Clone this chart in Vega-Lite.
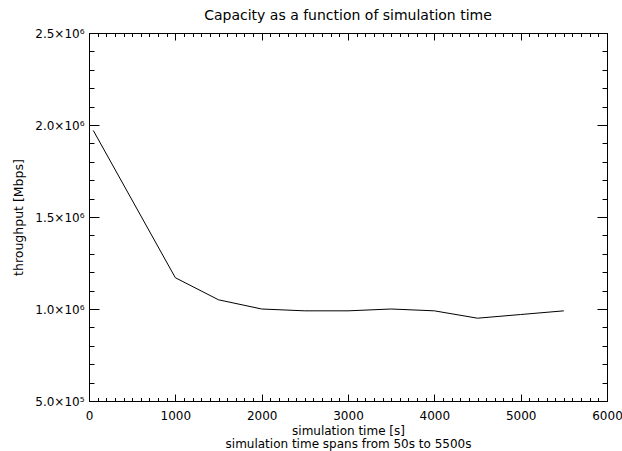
{
  "$schema": "https://vega.github.io/schema/vega-lite/v6.json",
  "width": 518,
  "height": 368,
  "autosize": "none",
  "padding": {"left": 89, "top": 33, "right": 15, "bottom": 50},
  "background": "white",
  "title": {"text": "Capacity as a function of simulation time", "fontSize": 14, "font": "DejaVu Sans", "fontWeight": "normal", "color": "black", "offset": 4, "anchor": "middle"},
  "config": {
    "view": {"stroke": "black", "strokeWidth": 1},
    "axis": {"grid": false, "domainColor": "black", "tickColor": "black", "labelColor": "black", "titleColor": "black", "labelFont": "DejaVu Sans", "titleFont": "DejaVu Sans", "titleFontWeight": "normal", "labelFontSize": 12, "titleFontSize": 12.5, "tickWidth": 1}
  },
  "data": {"values": [
    {"time": 50, "throughput": 1970000},
    {"time": 1000, "throughput": 1170000},
    {"time": 1500, "throughput": 1050000},
    {"time": 2000, "throughput": 1000000},
    {"time": 2500, "throughput": 990000},
    {"time": 3000, "throughput": 990000},
    {"time": 3500, "throughput": 1000000},
    {"time": 4000, "throughput": 990000},
    {"time": 4500, "throughput": 950000},
    {"time": 5000, "throughput": 970000},
    {"time": 5500, "throughput": 990000}
  ]},
  "layer": [
    {
      "mark": {"type": "line", "color": "black", "strokeWidth": 1},
      "encoding": {
        "x": {"field": "time", "type": "quantitative", "scale": {"domain": [0, 6000], "nice": false, "zero": false},
          "axis": {"orient": "bottom", "title": ["simulation time [s]", "simulation time spans from 50s to 5500s"], "titlePadding": 1, "titleLineHeight": 13, "titleFontSize": 12,
            "values": [0,100,200,300,400,500,600,700,800,900,1000,1100,1200,1300,1400,1500,1600,1700,1800,1900,2000,2100,2200,2300,2400,2500,2600,2700,2800,2900,3000,3100,3200,3300,3400,3500,3600,3700,3800,3900,4000,4100,4200,4300,4400,4500,4600,4700,4800,4900,5000,5100,5200,5300,5400,5500,5600,5700,5800,5900,6000],
            "labelExpr": "datum.value % 1000 === 0 ? format(datum.value, 'd') : ''",
            "tickSize": {"condition": {"test": "datum.value % 1000 === 0", "value": -7}, "value": -3.5},
            "labelPadding": 16, "labelFlush": false, "labelOverlap": false}},
        "y": {"field": "throughput", "type": "quantitative", "scale": {"domain": [500000, 2500000], "nice": false, "zero": false},
          "axis": {"orient": "left", "title": "throughput [Mbps]", "titlePadding": 9,
            "values": [500000,600000,700000,800000,900000,1000000,1100000,1200000,1300000,1400000,1500000,1600000,1700000,1800000,1900000,2000000,2100000,2200000,2300000,2400000,2500000],
            "labelExpr": "datum.value % 500000 === 0 ? (datum.value >= 1000000 ? format(datum.value/1000000, '.1f') + '×10⁶' : format(datum.value/100000, '.1f') + '×10⁵') : ''",
            "tickSize": {"condition": {"test": "datum.value % 500000 === 0", "value": -10}, "value": -5},
            "labelPadding": 15, "labelOverlap": false, "labelFlush": false}}
      }
    },
    {
      "mark": {"type": "line", "color": "black", "strokeWidth": 1, "opacity": 0},
      "encoding": {
        "x": {"field": "time", "type": "quantitative", "scale": {"domain": [0, 6000], "nice": false, "zero": false},
          "axis": {"orient": "top", "title": null, "labels": false,
            "values": [0,100,200,300,400,500,600,700,800,900,1000,1100,1200,1300,1400,1500,1600,1700,1800,1900,2000,2100,2200,2300,2400,2500,2600,2700,2800,2900,3000,3100,3200,3300,3400,3500,3600,3700,3800,3900,4000,4100,4200,4300,4400,4500,4600,4700,4800,4900,5000,5100,5200,5300,5400,5500,5600,5700,5800,5900,6000],
            "tickSize": {"condition": {"test": "datum.value % 1000 === 0", "value": -7}, "value": -3.5}}},
        "y": {"field": "throughput", "type": "quantitative", "scale": {"domain": [500000, 2500000], "nice": false, "zero": false},
          "axis": {"orient": "right", "title": null, "labels": false,
            "values": [500000,600000,700000,800000,900000,1000000,1100000,1200000,1300000,1400000,1500000,1600000,1700000,1800000,1900000,2000000,2100000,2200000,2300000,2400000,2500000],
            "tickSize": {"condition": {"test": "datum.value % 500000 === 0", "value": -10}, "value": -5}}}
      }
    }
  ],
  "resolve": {"axis": {"x": "independent", "y": "independent"}}
}
